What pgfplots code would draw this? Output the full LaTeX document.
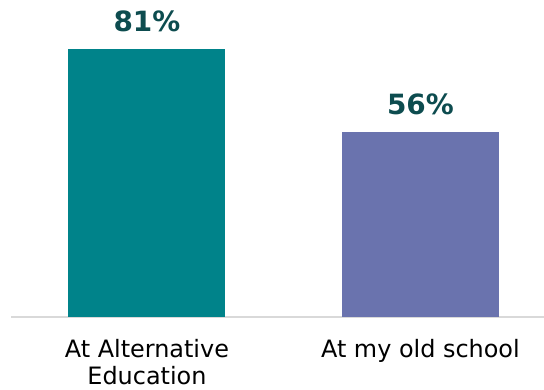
\documentclass[border=0pt]{standalone}
\usepackage{pgfplots}
\pgfplotsset{compat=1.18}
\usepackage{fontspec}
\setmainfont{DejaVu Sans}
\definecolor{barA}{HTML}{00838A}
\definecolor{barB}{HTML}{6A73AE}
\definecolor{lab}{HTML}{0D4C4F}
\definecolor{axl}{HTML}{D9D9D9}
\begin{document}
\begin{tikzpicture}
\useasboundingbox (-11bp,-73bp) rectangle (533bp,317bp);
\begin{axis}[
  scale only axis,
  width=533bp, height=317bp,
  xmin=-0.497, xmax=1.452,
  ymin=0, ymax=95.8,
  hide y axis,
  axis x line*=bottom,
  x axis line style={axl, line width=1.5bp, -},
  xtick={0,1},
  xticklabels={{At Alternative\\Education},{At my old school}},
  xtick style={draw=none},
  xticklabel style={align=center, anchor=north, inner sep=0pt, yshift=-18bp,
    font=\fontsize{24}{27}\selectfont, text=black},
  ybar, bar width=157bp, bar shift=0pt,
  /pgf/number format/assume math mode=true,
  nodes near coords={\pgfmathprintnumber{\pgfplotspointmeta}\%},
  nodes near coords style={anchor=south, inner sep=0pt, yshift=17bp,
    font=\fontsize{28}{30}\selectfont\bfseries, text=lab},
  clip=false,
]
\addplot[fill=barA, draw=none] coordinates {(0,81)};
\addplot[fill=barB, draw=none] coordinates {(1,56)};
\end{axis}
\end{tikzpicture}
\end{document}
